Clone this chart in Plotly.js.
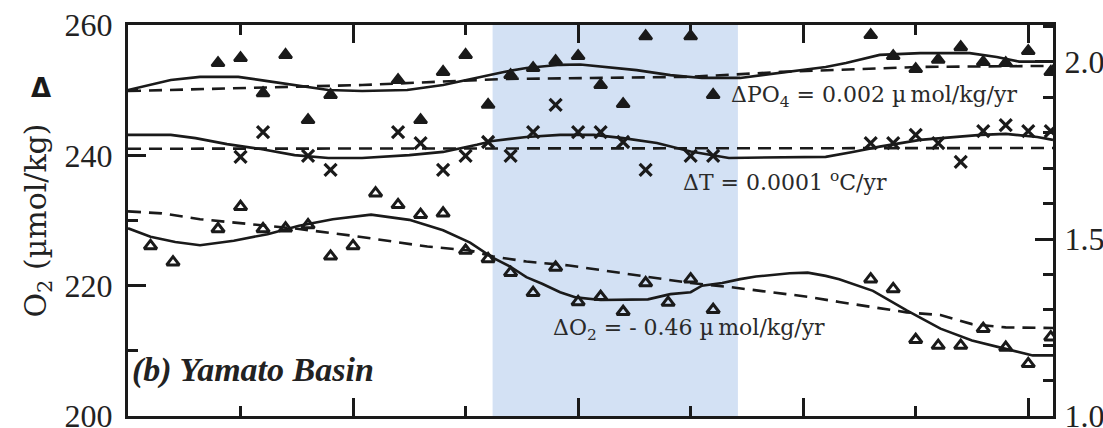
<!DOCTYPE html>
<html>
<head>
<meta charset="utf-8">
<script src="https://cdn.plot.ly/plotly-3.0.1.min.js"></script>
<style>html,body{margin:0;padding:0;background:#fff}#chart{width:1103px;height:428px}</style>
</head>
<body>
<div id="chart"></div>
<script>
// ---- Data (x = year, O2 on left axis in µmol/kg, PO4 and T read on right axis) ----
const po4Years = [1964,1965,1966,1967,1968,1969,1972,1973,1974,1975,1976,1977,1978,1979,1980,1981,1982,1983,1985,1986,1993,1994,1995,1996,1997,1998,1999,2000,2001];
const po4Vals  = [1.997,2.011,1.912,2.020,1.836,1.907,1.949,1.836,1.972,2.020,1.879,1.963,1.983,2.003,2.017,1.935,1.881,2.073,2.073,1.907,2.076,2.017,1.980,2.006,2.042,2.000,1.997,2.031,1.972];
const po4SmoothYears = [1960.0,1960.9,1961.9,1963.2,1964.9,1966.2,1967.7,1968.9,1970.4,1972.4,1974.0,1975.5,1976.7,1977.7,1979.2,1980.1,1981.1,1982.6,1984.1,1985.5,1987.2,1989.4,1991.0,1991.9,1993.4,1995.2,1997.4,1998.6,1999.6,2001.1];
const po4SmoothVals  = [1.921,1.935,1.949,1.958,1.958,1.946,1.932,1.921,1.918,1.921,1.935,1.955,1.972,1.983,1.992,1.993,1.986,1.977,1.963,1.955,1.955,1.972,1.986,1.997,2.020,2.025,2.025,2.014,2.001,2.001];
const po4TrendYears = [1960.0,1970.4,1976.7,1985.0,1989.0,1995.2,2001.1];
const po4TrendVals  = [1.918,1.935,1.952,1.958,1.972,1.986,1.989];

const tYears = [1965,1966,1968,1969,1972,1973,1974,1975,1976,1977,1978,1979,1980,1981,1982,1983,1985,1986,1993,1994,1995,1996,1997,1998,1999,2000,2001];
const tVals  = [1.732,1.802,1.735,1.695,1.802,1.771,1.695,1.735,1.774,1.735,1.802,1.879,1.802,1.802,1.774,1.695,1.735,1.735,1.771,1.771,1.794,1.771,1.718,1.805,1.822,1.805,1.805];
const tSmoothYears = [1960.0,1961.9,1963.0,1964.4,1965.9,1967.4,1968.9,1970.4,1972.5,1974.0,1975.5,1976.2,1977.7,1979.2,1980.7,1982.0,1983.5,1985.0,1986.7,1991.0,1992.2,1993.4,1995.2,1996.7,1997.9,1999.0,2000.4,2001.1];
const tSmoothVals  = [1.794,1.794,1.785,1.768,1.754,1.737,1.729,1.729,1.737,1.746,1.766,1.777,1.788,1.794,1.794,1.785,1.771,1.747,1.729,1.732,1.746,1.761,1.780,1.788,1.794,1.797,1.788,1.780];
const tTrendYears = [1960.0,2001.1];
const tTrendVals  = [1.755,1.757];

const o2Years = [1961,1962,1964,1965,1966,1967,1968,1969,1970,1971,1972,1973,1974,1975,1976,1977,1978,1979,1980,1981,1982,1983,1984,1985,1986,1993,1994,1995,1996,1997,1998,1999,2000,2001];
const o2Vals  = [226.1,223.6,228.7,232.1,228.7,228.8,229.3,224.5,226.1,234.2,232.4,230.9,231.1,225.4,224.1,222.0,218.9,222.8,217.5,218.3,216.0,220.4,217.4,221.0,216.3,221.0,219.5,211.7,210.8,210.8,213.4,210.5,208.0,212.1];
const o2SmoothYears = [1960.0,1961.0,1962.1,1963.2,1964.7,1966.2,1967.6,1969.1,1970.8,1972.5,1974.0,1975.2,1976.2,1977.0,1977.7,1978.4,1979.2,1979.9,1981.0,1983.1,1984.1,1985.0,1985.5,1986.4,1987.2,1987.9,1989.4,1990.2,1991.0,1991.6,1993.1,1994.6,1996.1,1997.5,1999.0,2000.2,2001.1];
const o2SmoothVals  = [228.8,227.5,226.7,226.2,226.9,227.9,229.2,230.2,230.9,230.1,228.5,226.6,224.3,222.9,221.3,220.3,219.0,218.2,217.8,217.9,218.7,219.0,220.0,220.4,221.0,221.4,221.9,222.0,221.5,221.0,219.2,216.2,213.4,211.6,210.3,209.3,209.3];
const o2TrendYears = [1960.0,1961.5,1963.2,1965.4,1967.6,1969.9,1971.8,1973.3,1975.2,1976.2,1977.7,1979.6,1982.0,1983.5,1985.0,1986.7,1988.7,1990.2,1991.6,1993.1,1994.6,1996.1,1997.5,1999.0,2001.1];
const o2TrendVals  = [231.4,231.1,230.2,229.5,228.7,227.7,226.8,226.0,225.4,224.5,223.7,223.1,221.9,221.1,220.4,219.8,219.0,218.3,217.5,216.7,215.9,215.5,214.1,213.6,213.5];

const shadedPeriod = [1976.2, 1987.1];

const rateLabels = {
  po4: 'ΔPO<sub>4</sub> = 0.002 µ\u2009mol/kg/yr',
  t:   'ΔT = 0.0001 <sup>o</sup>C/yr',
  o2:  'ΔO<sub>2</sub> = - 0.46 µ\u2009mol/kg/yr'
};
const panelLabel = '<b><i>(b) Yamato Basin</i></b>';

// ---- Styling ----
const ink = '#1a1a1a';
const serif = '"Liberation Serif", "Times New Roman", serif';
const labelFont = {family: '"DejaVu Serif", serif', size: 22, color: '#2a2a2a'};
const solid = {color: ink, width: 2.6};
const dashed = {color: ink, width: 2.6, dash: '13px,8px'};

const traces = [
  {x: po4TrendYears, y: po4TrendVals, yaxis: 'y2', mode: 'lines', line: dashed, hoverinfo: 'skip'},
  {x: po4SmoothYears, y: po4SmoothVals, yaxis: 'y2', mode: 'lines', line: solid, hoverinfo: 'skip'},
  {x: tTrendYears, y: tTrendVals, yaxis: 'y2', mode: 'lines', line: dashed, hoverinfo: 'skip'},
  {x: tSmoothYears, y: tSmoothVals, yaxis: 'y2', mode: 'lines', line: solid, hoverinfo: 'skip'},
  {x: o2TrendYears, y: o2TrendVals, yaxis: 'y', mode: 'lines', line: dashed, hoverinfo: 'skip'},
  {x: o2SmoothYears, y: o2SmoothVals, yaxis: 'y', mode: 'lines', line: solid, hoverinfo: 'skip'},
  {x: po4Years, y: po4Vals, yaxis: 'y2', mode: 'markers',
   marker: {symbol: 'triangle-up', size: 11, color: ink, line: {color: ink, width: 2.5}}},
  {x: tYears, y: tVals, yaxis: 'y2', mode: 'markers',
   marker: {symbol: 'x-thin-open', size: 12, color: ink, line: {color: ink, width: 3.2}}},
  {x: o2Years, y: o2Vals, yaxis: 'y', mode: 'markers',
   marker: {symbol: 'triangle-up-open', size: 11, color: ink, line: {color: ink, width: 3}}}
];

const tickFont = {family: serif, size: 32, color: '#222'};

const layout = {
  width: 1103, height: 428,
  margin: {l: 128, r: 50, t: 25, b: 12, pad: 0},
  paper_bgcolor: '#ffffff', plot_bgcolor: '#ffffff',
  showlegend: false,
  xaxis: {
    range: [1960, 2001.1], showticklabels: false,
    ticks: 'inside', ticklen: 18, tickwidth: 3, tickcolor: ink, tick0: 1960, dtick: 10,
    minor: {ticks: 'inside', ticklen: 10, tickwidth: 3, tickcolor: ink, tick0: 1960, dtick: 5, showgrid: false},
    showline: true, linewidth: 3, linecolor: ink, mirror: 'ticks',
    showgrid: false, zeroline: false
  },
  yaxis: {
    range: [200, 260], tick0: 200, dtick: 20,
    ticks: 'inside', ticklen: 18, tickwidth: 3, tickcolor: ink,
    minor: {ticks: 'inside', ticklen: 10, tickwidth: 3, tickcolor: ink, dtick: 10, showgrid: false},
    showline: true, linewidth: 3, linecolor: ink,
    tickfont: tickFont, ticklabelstandoff: 6, ticklabeloverflow: 'allow',
    title: {text: 'O<sub>2</sub> (µmol/kg)', font: {family: '"DejaVu Serif", serif', size: 30, color: '#222'}, standoff: 10},
    showgrid: false, zeroline: false
  },
  yaxis2: {
    overlaying: 'y', side: 'right',
    range: [1.0, 2.1045], tick0: 1.0, dtick: 0.5, tickformat: '.1f',
    ticks: 'inside', ticklen: 18, tickwidth: 3, tickcolor: ink,
    minor: {ticks: 'inside', ticklen: 10, tickwidth: 3, tickcolor: ink, dtick: 0.1, showgrid: false},
    showline: true, linewidth: 3, linecolor: ink,
    tickfont: tickFont, ticklabelstandoff: 2, ticklabeloverflow: 'allow',
    showgrid: false, zeroline: false
  },
  shapes: [{
    type: 'rect', xref: 'x', yref: 'paper',
    x0: shadedPeriod[0], x1: shadedPeriod[1], y0: 0, y1: 1,
    fillcolor: '#d3e1f4', line: {width: 0}, layer: 'below'
  }],
  annotations: [
    {text: rateLabels.po4, xref: 'paper', yref: 'paper', x: 0.650, y: 0.818, xanchor: 'left', yanchor: 'middle', showarrow: false, font: labelFont},
    {text: rateLabels.t, xref: 'paper', yref: 'paper', x: 0.598, y: 0.600, xanchor: 'left', yanchor: 'middle', showarrow: false, font: labelFont},
    {text: rateLabels.o2, xref: 'paper', yref: 'paper', x: 0.457, y: 0.220, xanchor: 'left', yanchor: 'middle', showarrow: false, font: labelFont},
    {text: panelLabel, xref: 'paper', yref: 'paper', x: 0.002, y: 0.118, xanchor: 'left', yanchor: 'middle', showarrow: false,
     font: {family: serif, size: 34, color: '#222'}},
    {text: '<b>Δ</b>', xref: 'paper', yref: 'paper', x: -0.094, y: 0.839, xanchor: 'center', yanchor: 'middle', showarrow: false,
     font: {family: '"DejaVu Sans", sans-serif', size: 26, color: ink}}
  ]
};

Plotly.newPlot('chart', traces, layout, {staticPlot: true, displayModeBar: false});
</script>
</body>
</html>
